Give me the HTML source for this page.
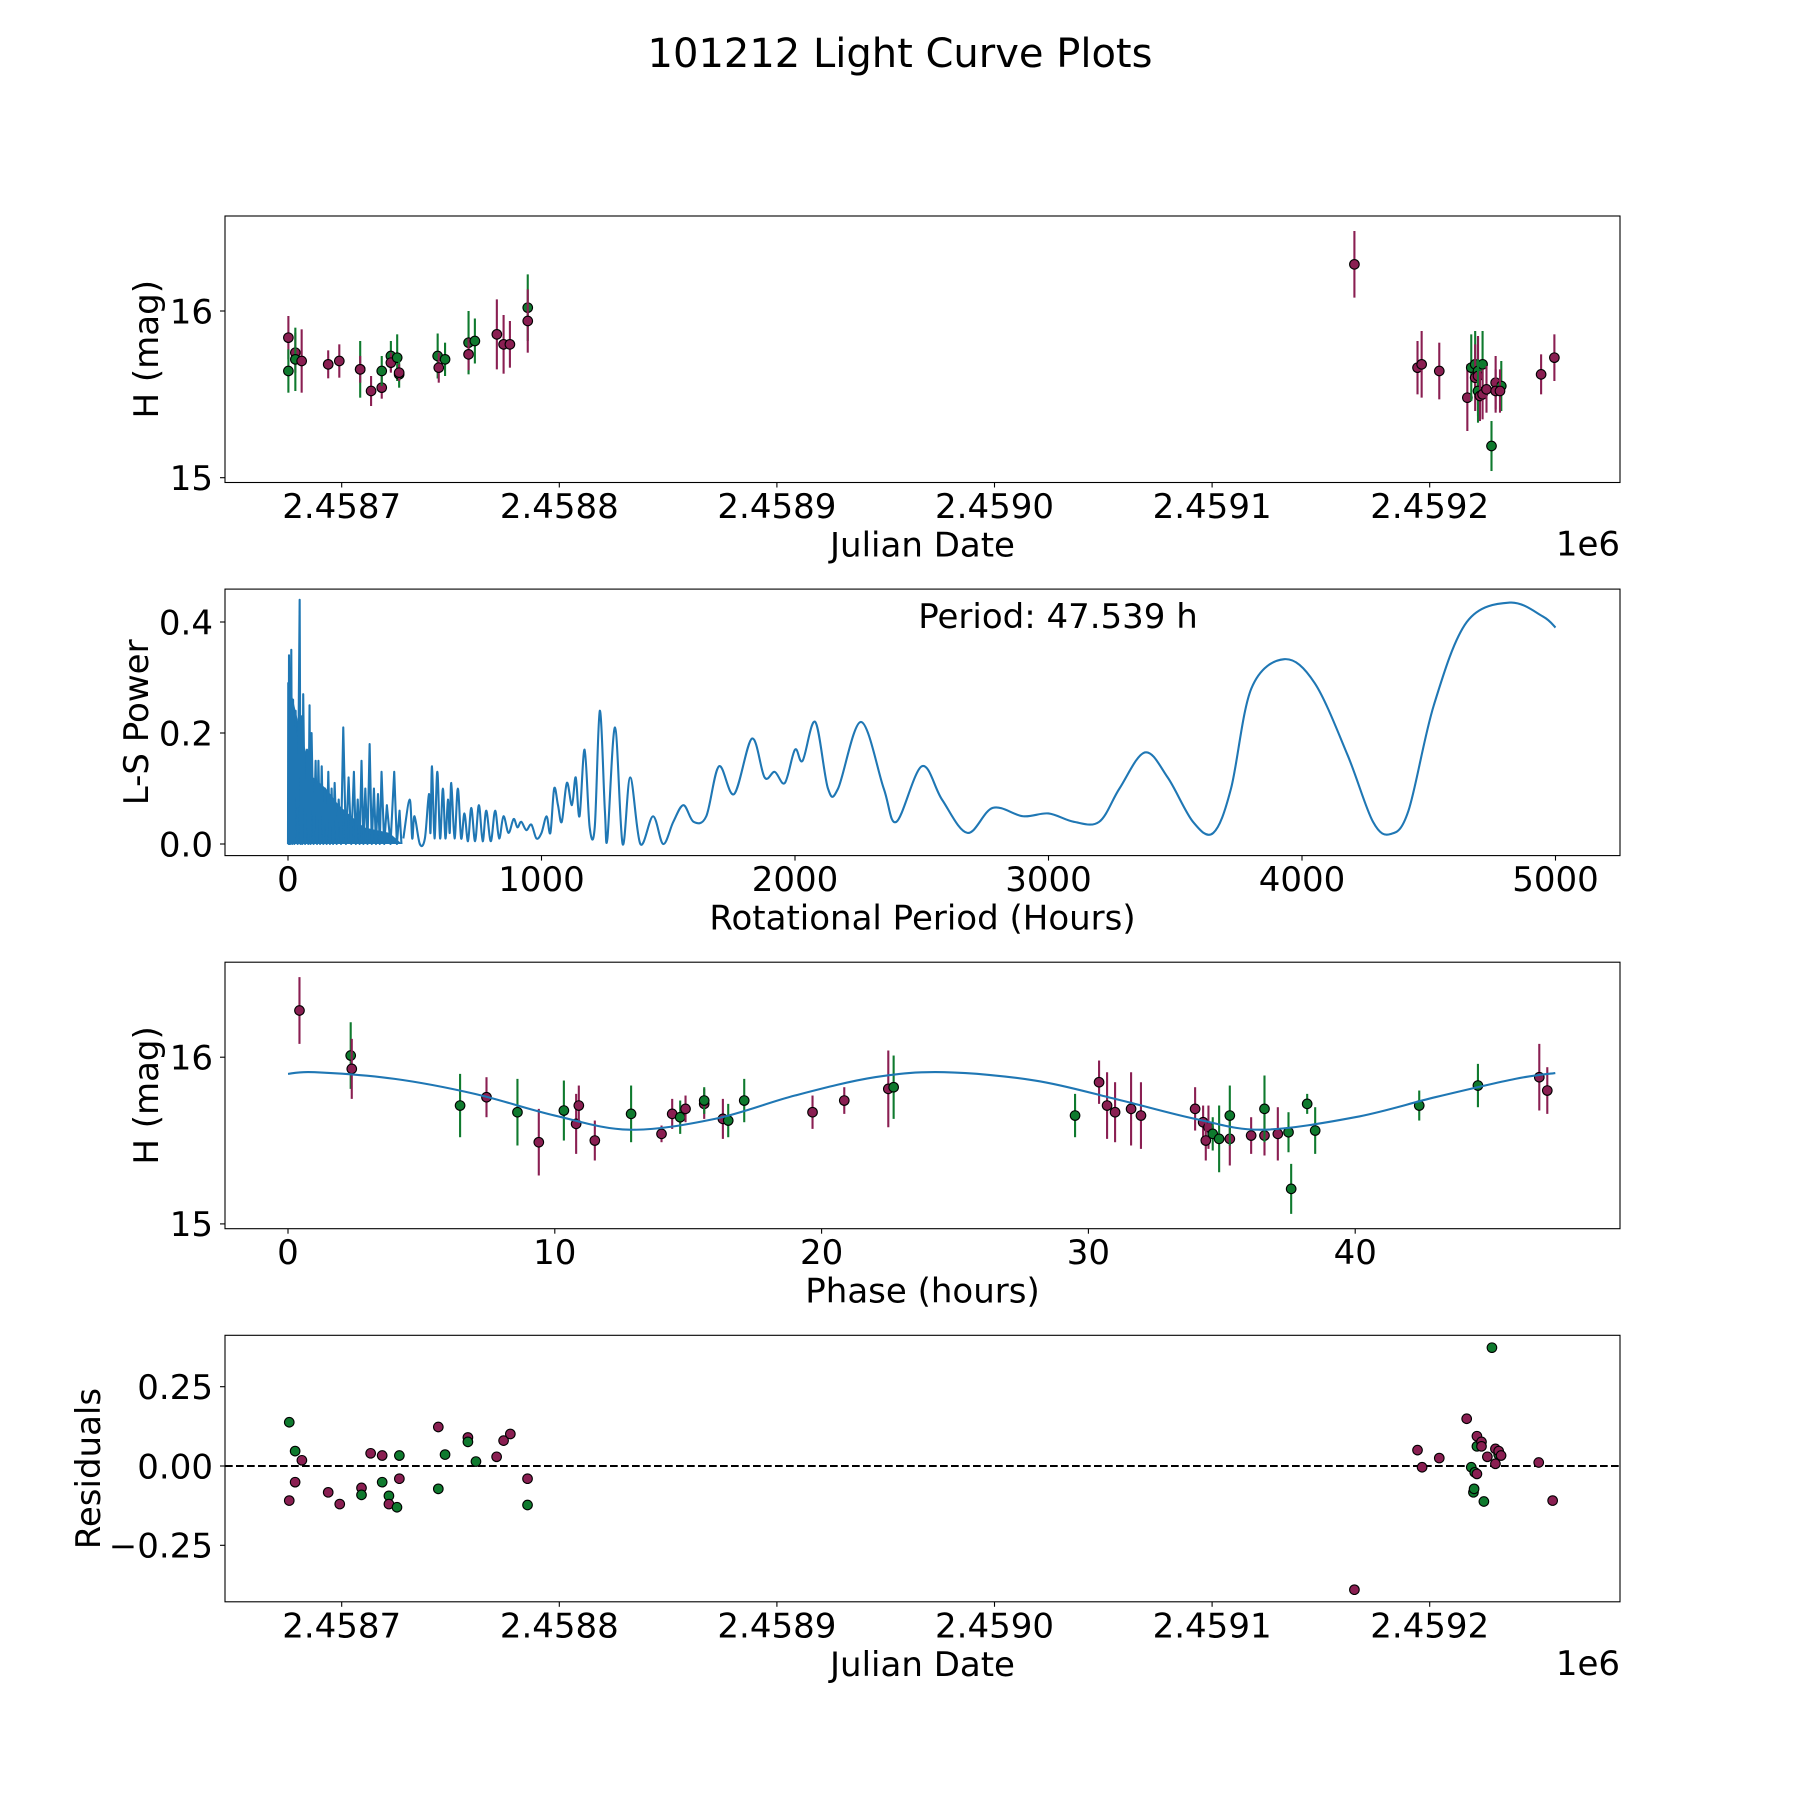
<!DOCTYPE html>
<html><head><meta charset="utf-8"><style>
html,body{margin:0;padding:0;background:#fff;}
svg{display:block;font-family:"DejaVu Sans","Liberation Sans",sans-serif;}
</style></head><body>
<svg id="fig" width="1800" height="1800" viewBox="0 0 1800 1800" xmlns="http://www.w3.org/2000/svg">
<rect x="0" y="0" width="1800" height="1800" fill="#fff"/>
<text x="900" y="67" font-size="40" text-anchor="middle">101212 Light Curve Plots</text>
</svg>
<script>
// ---- Panel 1 / 4: light curve data (JD - 2458700) ----
const lcDays = [-24.5,-24.5,-21.3,-21.3,-18.4,-6.2,-1.1,8.5,8.5,13.5,18.4,18.4,22.6,22.6,25.5,26.4,26.4,44.1,44.6,47.5,58.3,58.3,61.2,71.3,74.4,77.3,85.5,85.5,465.4,494.4,496.3,504.4,517.3,519.1,520.9,520.9,522.2,522.2,524.3,522.2,523.1,524.3,526.1,528.4,530.3,532.9,530.3,532.3,551.2,557.3];
const lcMags = [15.84,15.64,15.75,15.71,15.70,15.68,15.70,15.65,15.65,15.52,15.54,15.64,15.73,15.69,15.72,15.62,15.63,15.73,15.66,15.71,15.81,15.74,15.82,15.86,15.80,15.80,16.02,15.94,16.28,15.66,15.68,15.64,15.48,15.66,15.68,15.60,15.64,15.61,15.68,15.52,15.49,15.50,15.53,15.19,15.57,15.55,15.52,15.52,15.62,15.72];
const lcErrs = [0.13,0.13,0.12,0.19,0.19,0.084,0.10,0.17,0.08,0.09,0.066,0.09,0.09,0.06,0.14,0.08,0.05,0.135,0.09,0.10,0.19,0.095,0.135,0.21,0.176,0.14,0.2,0.19,0.2,0.16,0.2,0.17,0.2,0.2,0.2,0.2,0.2,0.24,0.2,0.19,0.15,0.15,0.14,0.15,0.16,0.15,0.13,0.13,0.12,0.14];
const lcBand = ["m","g","m","g","m","m","m","g","m","m","m","g","g","m","g","g","m","g","m","g","g","m","g","m","m","m","g","m","m","m","m","m","m","g","g","m","g","m","g","g","m","m","m","g","m","g","m","m","m","m"];
const jdTicks = [0,100,200,300,400,500];
const jdTickLabels = ["2.4587","2.4588","2.4589","2.4590","2.4591","2.4592"];
// ---- Panel 2: periodogram ----
const denseEnvP = [0,20,50,100,150,200,250,300,400,450];
const denseEnvV = [0.30,0.26,0.20,0.12,0.10,0.07,0.05,0.03,0.02,0.0];
const spikeP = [1,4,13,20,30,46,53,60,75,85,93,109,120,133,146,159,172,184,200,218,239,260,275,290,305,322,339,355,369,390,419,440];
const spikeV = [0.29,0.34,0.35,0.26,0.24,0.44,0.23,0.27,0.17,0.25,0.20,0.15,0.15,0.14,0.10,0.13,0.10,0.11,0.08,0.21,0.12,0.13,0.08,0.15,0.10,0.18,0.10,0.09,0.13,0.07,0.13,0.06];
const smoothP = [455,480,490,499,520,540,556,562,568,578,589,600,611,621,631,638,644,657,670,683,696,710,723,738,753,768,782,800,817,833,850,870,890,905,920,940,960,980,1000,1020,1035,1050,1065,1080,1100,1120,1135,1150,1170,1190,1210,1230,1250,1260,1290,1320,1350,1390,1440,1480,1520,1560,1600,1650,1700,1760,1830,1880,1920,1960,2000,2030,2080,2130,2170,2260,2350,2400,2500,2580,2680,2780,2900,3000,3100,3200,3280,3380,3470,3570,3650,3720,3800,3930,4050,4180,4280,4350,4420,4520,4650,4820,4950,5000];
const smoothV = [0.01,0.08,0.01,0.05,0.0,0.01,0.09,0.02,0.14,0.01,0.13,0.01,0.10,0.01,0.08,0.02,0.11,0.01,0.10,0.01,0.055,0.005,0.065,0.005,0.07,0.005,0.06,0.005,0.06,0.01,0.05,0.02,0.045,0.03,0.04,0.025,0.035,0.01,0.02,0.05,0.02,0.10,0.07,0.04,0.11,0.07,0.12,0.05,0.17,0.03,0.03,0.24,0.06,0.01,0.21,0.0,0.12,0.0,0.05,0.0,0.04,0.07,0.04,0.05,0.14,0.09,0.19,0.12,0.13,0.11,0.17,0.15,0.22,0.10,0.10,0.22,0.10,0.04,0.14,0.08,0.02,0.065,0.05,0.055,0.04,0.04,0.10,0.165,0.12,0.04,0.02,0.10,0.28,0.333,0.29,0.16,0.04,0.018,0.06,0.25,0.40,0.435,0.41,0.39];
const pTicks = [0,1000,2000,3000,4000,5000];
const powTicks = [0.0,0.2,0.4];
// ---- Panel 3: phased ----
const phHours = [0.43,2.35,2.39,6.45,7.44,8.6,9.4,10.34,10.8,10.9,11.5,12.86,14.0,14.4,14.7,14.9,15.6,15.6,16.3,16.5,17.1,19.66,20.85,22.5,22.7,29.5,30.4,30.7,31.0,31.6,31.97,34.0,34.3,34.5,34.4,34.66,34.9,35.3,35.3,36.1,36.6,36.6,37.1,37.5,37.6,38.2,38.5,42.4,44.6,46.9,47.2];
const phMags = [16.28,16.01,15.93,15.71,15.76,15.67,15.49,15.68,15.60,15.71,15.50,15.66,15.54,15.66,15.64,15.69,15.72,15.74,15.63,15.62,15.74,15.67,15.74,15.81,15.82,15.65,15.85,15.71,15.67,15.69,15.65,15.69,15.61,15.58,15.50,15.54,15.51,15.51,15.65,15.53,15.53,15.69,15.54,15.55,15.21,15.72,15.56,15.71,15.83,15.88,15.80];
const phErrs = [0.2,0.2,0.18,0.19,0.12,0.2,0.2,0.18,0.18,0.12,0.12,0.17,0.05,0.09,0.1,0.08,0.09,0.08,0.12,0.1,0.13,0.1,0.08,0.23,0.19,0.13,0.13,0.2,0.18,0.22,0.2,0.13,0.1,0.13,0.12,0.1,0.2,0.16,0.18,0.11,0.12,0.2,0.16,0.12,0.15,0.06,0.14,0.09,0.13,0.2,0.14];
const phBand = ["m","g","m","g","m","g","m","g","m","m","m","g","m","m","g","m","m","g","m","g","g","m","m","m","g","g","m","m","m","m","m","m","m","m","m","g","g","m","g","m","m","g","m","g","g","g","g","g","g","m","m"];
const fitHours = [0,1,4,7,10,12.8,16,19,22,24.6,28,31,34,36.5,40,43,46,47.5];
const fitMags = [15.90,15.91,15.87,15.78,15.65,15.565,15.63,15.77,15.88,15.91,15.86,15.75,15.63,15.565,15.64,15.76,15.87,15.905];
const phTicks = [0,10,20,30,40];
// ---- Panel 4: residuals ----
const resDays = [-24.1,-24.1,-21.4,-21.4,-18.3,-6.2,-0.9,9.1,9.1,13.3,18.6,18.6,21.7,21.7,25.4,26.5,26.5,44.4,44.4,47.5,58,58,61.7,71.2,74.4,77.5,85.4,85.4,465.4,494.4,496.5,504.4,517,519.1,520.7,521.7,521.7,523.8,521.7,520.1,520.4,524.9,523.8,526.5,528.6,530.2,530.2,531.7,531.7,532.8,550.1,556.5];
const resVals = [0.138,-0.109,0.047,-0.051,0.018,-0.083,-0.12,-0.069,-0.091,0.04,-0.051,0.033,-0.094,-0.12,-0.13,0.033,-0.04,0.123,-0.072,0.036,0.09,0.076,0.014,0.029,0.08,0.101,-0.04,-0.123,-0.39,0.05,-0.004,0.025,0.149,-0.004,-0.02,0.062,0.094,0.076,-0.025,-0.083,-0.072,-0.112,0.062,0.029,0.373,0.054,0.007,0.036,0.047,0.033,0.011,-0.109];
const resBand = ["g","m","g","m","m","m","m","m","g","m","g","m","g","m","g","g","m","m","g","g","m","g","g","m","m","m","m","g","m","m","m","m","m","g","g","g","m","m","m","g","g","g","m","m","g","m","m","g","m","m","m","m"];
const resTicks = [-0.25,0,0.25];
const resTickLabels = ["\u22120.25","0.00","0.25"];

const NS = "http://www.w3.org/2000/svg";
const svg = document.getElementById("fig");
const COL = {m:"#8a1f52", g:"#0f7a2e"};
const L = 225, R = 1620, H = 266.5;
const tops = [216, 589.1, 962.2, 1335.3];
const TF = 34, LF = 34;
function mk(tag, attrs, parent){const e=document.createElementNS(NS,tag);for(const k in attrs)e.setAttribute(k,attrs[k]);(parent||svg).appendChild(e);return e;}
function txt(s, attrs, parent){const e=mk("text",attrs,parent);e.textContent=s;return e;}

const xJD = d => 341.7 + d*2.176;
const yMag = (top, m) => top + 95 - (m-16)*166.7;
const xP = p => 288 + p*0.2535;
const yPow = v => 844 - v*555;
const xPh = h => 288 + h*26.68;
const yRes = r => 1466 - r*317.2;

function frame(i, name){
  const g = mk("g",{});
  
  
  const r = mk("rect",{x:L,y:tops[i],width:R-L,height:H,fill:"none",stroke:"#000","stroke-width":1.1},g);
  
  
  return g;
}
function xtick(g, i, x, label){
  const b = tops[i]+H;
  const t = mk("line",{x1:x,x2:x,y1:b,y2:b+5,stroke:"#000","stroke-width":1.1},g);
  
  
  const l = txt(label,{x:x,y:b+35.5,"font-size":TF,"text-anchor":"middle"},g);
  
  
}
function ytick(g, y, label){
  const t = mk("line",{x1:L-5,x2:L,y1:y,y2:y,stroke:"#000","stroke-width":1.1},g);
  
  
  const l = txt(label,{x:L-12,y:y+12.3,"font-size":TF,"text-anchor":"end"},g);
  
  
}
function xlabel(g,i,s){
  const l = txt(s,{x:(L+R)/2,y:tops[i]+H+74,"font-size":LF,"text-anchor":"middle"},g);
  
  
}
function ylabel(g,i,s,x){
  const cy = tops[i]+H/2;
  const l = txt(s,{x:x,y:cy,"font-size":LF,"text-anchor":"middle",transform:`rotate(-90 ${x} ${cy})`},g);
  
  
}
function offsetLabel(g,i){
  const l = txt("1e6",{x:R,y:tops[i]+H+73,"font-size":LF,"text-anchor":"end"},g);
  
  
}
function clip(i,id){
  const c = mk("clipPath",{id:id});
  mk("rect",{x:L,y:tops[i],width:R-L,height:H},c);
}
function errPoint(g, x, y, dy, col){
  const e = mk("line",{x1:x,x2:x,y1:y-dy,y2:y+dy,stroke:col,"stroke-width":2.1},g);
  
  
}
function marker(g, x, y, col){
  const c = mk("circle",{cx:x,cy:y,r:4.8,fill:col,stroke:"#000","stroke-width":1.1},g);
  
  
}
function smoothPath(P){
  let path = `M${P[0][0]},${P[0][1]}`;
  for(let k=0;k<P.length-1;k++){
    const p0=P[Math.max(0,k-1)],p1=P[k],p2=P[k+1],p3=P[Math.min(P.length-1,k+2)];
    const c1=[p1[0]+(p2[0]-p0[0])/6,p1[1]+(p2[1]-p0[1])/6];
    const c2=[p2[0]-(p3[0]-p1[0])/6,p2[1]-(p3[1]-p1[1])/6];
    path += ` C${c1[0]},${c1[1]} ${c2[0]},${c2[1]} ${p2[0]},${p2[1]}`;
  }
  return path;
}

// ---- Panel 1 ----
(function(){
  const g = frame(0,"light-curve-panel");
  clip(0,"c0");
  const d = mk("g",{"clip-path":"url(#c0)"},g);
  
  
  for(let k=0;k<lcDays.length;k++){const x=xJD(lcDays[k]),y=yMag(tops[0],lcMags[k]);errPoint(d,x,y,lcErrs[k]*166.7,COL[lcBand[k]]);marker(d,x,y,COL[lcBand[k]]);}
  jdTicks.forEach((t,k)=>xtick(g,0,xJD(t),jdTickLabels[k]));
  [15,16].forEach(m=>ytick(g,yMag(tops[0],m),String(m)));
  xlabel(g,0,"Julian Date"); offsetLabel(g,0); ylabel(g,0,"H (mag)",158);
})();

// ---- Panel 2 ----
(function(){
  const g = frame(1,"periodogram-panel");
  clip(1,"c1");
  const d = mk("g",{"clip-path":"url(#c1)"},g);
  
  
  let pts = denseEnvP.map((p,k)=>`${xP(p)},${yPow(denseEnvV[k])}`);
  pts.push(`${xP(denseEnvP[denseEnvP.length-1])},${yPow(0)}`,`${xP(0)},${yPow(0)}`);
  const band = mk("polygon",{points:pts.join(" "),fill:"#1f77b4"},d);
  
  
  let sp = [`${xP(0)},${yPow(0)}`];
  for(let k=0;k<spikeP.length;k++){
    sp.push(`${xP(spikeP[k])},${yPow(spikeV[k])}`);
    const next = k+1<spikeP.length ? spikeP[k+1] : smoothP[0];
    sp.push(`${xP((spikeP[k]+next)/2)},${yPow(0)}`);
  }
  const sl = mk("polyline",{points:sp.join(" "),fill:"none",stroke:"#1f77b4","stroke-width":2.1,"stroke-linejoin":"round"},d);
  
  
  const P = smoothP.map((p,k)=>[xP(p),yPow(smoothV[k])]);
  const pl = mk("path",{d:smoothPath(P),fill:"none",stroke:"#1f77b4","stroke-width":2.1},d);
  
  
  pTicks.forEach(t=>xtick(g,1,xP(t),String(t)));
  powTicks.forEach(v=>ytick(g,yPow(v),v.toFixed(1)));
  xlabel(g,1,"Rotational Period (Hours)"); ylabel(g,1,"L-S Power",148);
  const pt = txt("Period: 47.539 h",{x:1058,y:628,"font-size":LF,"text-anchor":"middle"},g);
  
  
})();

// ---- Panel 3 ----
(function(){
  const g = frame(2,"phased-curve-panel");
  clip(2,"c2");
  const d = mk("g",{"clip-path":"url(#c2)"},g);
  
  
  for(let k=0;k<phHours.length;k++){const x=xPh(phHours[k]),y=yMag(tops[2],phMags[k]);errPoint(d,x,y,phErrs[k]*166.7,COL[phBand[k]]);marker(d,x,y,COL[phBand[k]]);}
  const P = fitHours.map((h,k)=>[xPh(h),yMag(tops[2],fitMags[k])]);
  const fl = mk("path",{d:smoothPath(P),fill:"none",stroke:"#1f77b4","stroke-width":2.1},d);
  
  
  phTicks.forEach(t=>xtick(g,2,xPh(t),String(t)));
  [15,16].forEach(m=>ytick(g,yMag(tops[2],m),String(m)));
  xlabel(g,2,"Phase (hours)"); ylabel(g,2,"H (mag)",158);
})();

// ---- Panel 4 ----
(function(){
  const g = frame(3,"residuals-panel");
  clip(3,"c3");
  const d = mk("g",{"clip-path":"url(#c3)"},g);
  
  
  const z = mk("line",{x1:L,x2:R,y1:yRes(0),y2:yRes(0),stroke:"#000","stroke-width":2,"stroke-dasharray":"7.7,3.3"},d);
  
  
  for(let k=0;k<resDays.length;k++) marker(d,xJD(resDays[k]),yRes(resVals[k]),COL[resBand[k]]);
  jdTicks.forEach((t,k)=>xtick(g,3,xJD(t),jdTickLabels[k]));
  resTicks.forEach((v,k)=>ytick(g,yRes(v),resTickLabels[k]));
  xlabel(g,3,"Julian Date"); offsetLabel(g,3); ylabel(g,3,"Residuals",100);
})();
</script>
</body></html>
